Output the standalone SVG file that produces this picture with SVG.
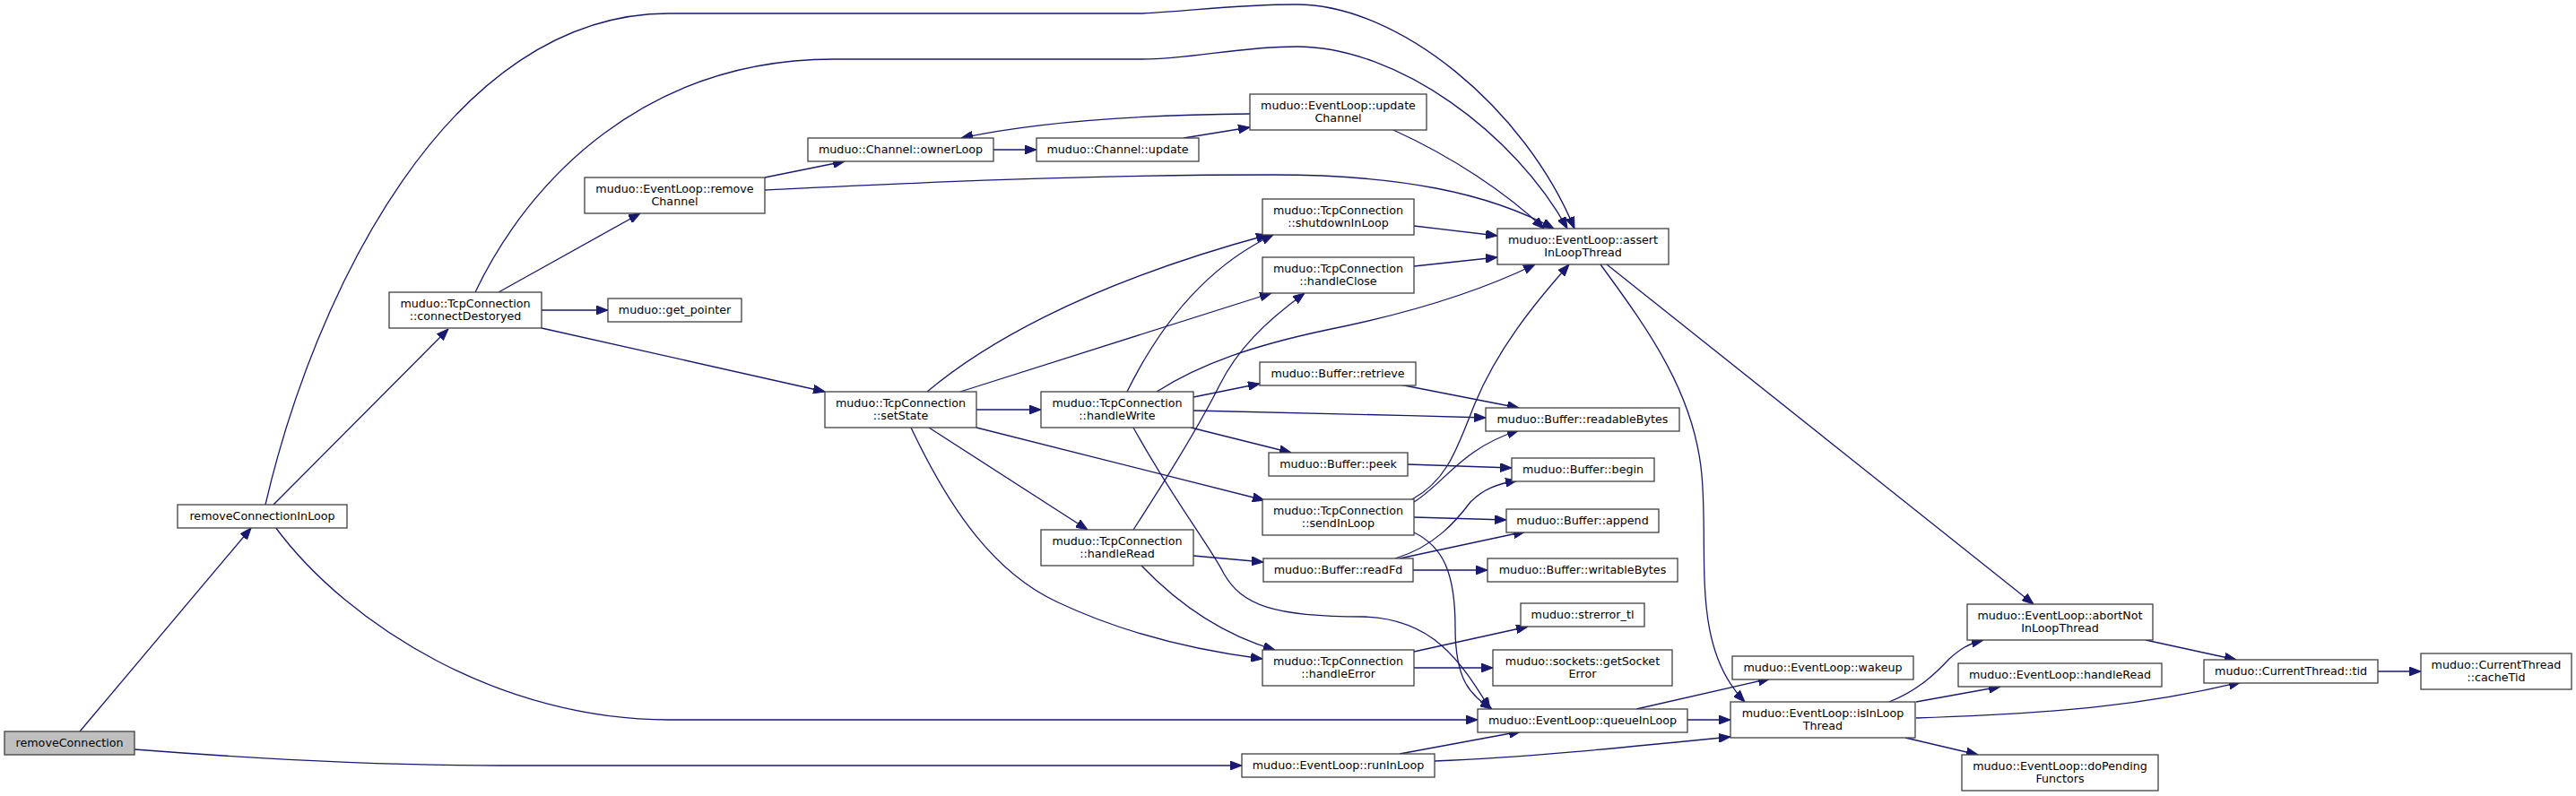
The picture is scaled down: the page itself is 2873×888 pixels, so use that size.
<svg xmlns="http://www.w3.org/2000/svg" width="2873" height="888" viewBox="0 0 2873 888">
<style>
.n rect{fill:#ffffff;stroke:#404040;stroke-width:1.3}
.n.root rect{fill:#bfbfbf}
.n text{font-family:"DejaVu Sans","Liberation Sans",sans-serif;font-size:12.7px;fill:#000;text-anchor:middle}
.e path{fill:none;stroke:#191970;stroke-width:1.3;marker-end:url(#ah)}
</style>
<defs>
<marker id="ah" markerWidth="13" markerHeight="10" refX="13" refY="5" orient="auto" markerUnits="userSpaceOnUse">
<path d="M0,0 L13,5 L0,10 z" fill="#191970" stroke="#191970" stroke-width="1"/>
</marker>
</defs>
<rect width="2873" height="888" fill="#ffffff"/>
<g class="e" id="edges">
<path d="M89,816 L280,589"/>
<path d="M150,836 C330,850 450,854 560,854 L1385,854"/>
<path d="M305,563 L500,367"/>
<path d="M296,563 C350,330 500,15 746,15 L1274,15 C1330,12 1380,5 1446,5 C1560,5 1700,120 1756,255"/>
<path d="M307,588 C390,700 560,803 746,803 L1648,803"/>
<path d="M556,326 L714,238"/>
<path d="M530,326 C590,200 720,66 930,66 L1274,66 C1330,66 1380,52 1446,52 C1560,52 1690,150 1748,255"/>
<path d="M604,346 L678,346"/>
<path d="M604,366 L920,437"/>
<path d="M853,198 L942,180"/>
<path d="M853,212 C1000,205 1200,195 1420,195 C1560,195 1660,215 1733,255"/>
<path d="M1108,167 L1156,167"/>
<path d="M1320,154 L1394,142"/>
<path d="M1394,127 C1280,128 1160,135 1072,154"/>
<path d="M1554,145 C1620,175 1680,215 1722,255"/>
<path d="M1034,437 C1090,390 1200,320 1414,262"/>
<path d="M1071,437 L1418,327"/>
<path d="M1089,457 L1161,457"/>
<path d="M1036,477 L1213,591"/>
<path d="M1089,477 L1410,558"/>
<path d="M1016,477 C1060,570 1110,640 1180,672 C1250,705 1330,725 1408,735"/>
<path d="M1257,437 C1290,370 1340,300 1420,262"/>
<path d="M1290,437 C1340,405 1400,385 1480,368 C1560,352 1640,330 1712,295"/>
<path d="M1331,443 L1405,428"/>
<path d="M1331,458 C1450,460 1550,463 1657,466"/>
<path d="M1328,477 L1440,505"/>
<path d="M1264,477 C1310,560 1350,610 1365,640 C1385,675 1420,688 1520,688 C1600,690 1630,740 1662,791"/>
<path d="M1264,591 C1310,520 1340,470 1360,430 C1380,390 1410,360 1455,327"/>
<path d="M1331,620 L1409,627"/>
<path d="M1273,631 C1320,680 1370,710 1422,725"/>
<path d="M1577,252 L1670,263"/>
<path d="M1577,297 L1670,287"/>
<path d="M1561,429 L1694,455"/>
<path d="M1570,518 L1686,522"/>
<path d="M1575,557 C1615,535 1625,500 1645,450 C1670,390 1710,340 1750,295"/>
<path d="M1577,560 C1610,540 1630,500 1694,480"/>
<path d="M1577,577 L1680,580"/>
<path d="M1577,594 C1610,610 1623,640 1623,700 C1623,760 1640,775 1664,791"/>
<path d="M1556,623 C1600,610 1625,580 1640,560 C1655,545 1670,540 1692,536"/>
<path d="M1561,623 L1701,593"/>
<path d="M1576,636 L1659,636"/>
<path d="M1577,727 L1704,699"/>
<path d="M1577,745 L1665,745"/>
<path d="M1561,841 L1696,816"/>
<path d="M1600,849 C1700,845 1800,835 1930,822"/>
<path d="M1825,791 L1974,757"/>
<path d="M1882,803 L1930,803"/>
<path d="M1785,295 C1840,370 1890,440 1898,530 C1906,620 1885,720 1946,783"/>
<path d="M1792,295 L2268,674"/>
<path d="M2107,783 C2140,770 2160,750 2174,735 C2185,725 2195,718 2212,714"/>
<path d="M2137,783 L2231,766"/>
<path d="M2137,801 C2300,796 2400,785 2499,761"/>
<path d="M2125,823 L2206,842"/>
<path d="M2393,714 L2494,736"/>
<path d="M2652,749 L2700,749"/>
</g>
<g class="n root" id="n_removeConnection"><rect x="5" y="816" width="145" height="26"/><text x="77.5" y="833">removeConnection</text></g>
<g class="n" id="n_removeConnectionInLoop"><rect x="198" y="563" width="189" height="26"/><text x="292.5" y="580">removeConnectionInLoop</text></g>
<g class="n" id="n_connectDestoryed"><rect x="434" y="326" width="170" height="40"/><text x="519" y="343">muduo::TcpConnection</text><text x="519" y="357">::connectDestoryed</text></g>
<g class="n" id="n_removeChannel"><rect x="652" y="198" width="201" height="40"/><text x="752.5" y="215">muduo::EventLoop::remove</text><text x="752.5" y="229">Channel</text></g>
<g class="n" id="n_get_pointer"><rect x="678" y="333" width="149" height="26"/><text x="752.5" y="350">muduo::get_pointer</text></g>
<g class="n" id="n_ownerLoop"><rect x="901" y="154" width="207" height="26"/><text x="1004.5" y="171">muduo::Channel::ownerLoop</text></g>
<g class="n" id="n_channelUpdate"><rect x="1156" y="154" width="181" height="26"/><text x="1246.5" y="171">muduo::Channel::update</text></g>
<g class="n" id="n_updateChannel"><rect x="1394" y="105" width="197" height="40"/><text x="1492.5" y="122">muduo::EventLoop::update</text><text x="1492.5" y="136">Channel</text></g>
<g class="n" id="n_setState"><rect x="920" y="437" width="169" height="40"/><text x="1004.5" y="454">muduo::TcpConnection</text><text x="1004.5" y="468">::setState</text></g>
<g class="n" id="n_handleWrite"><rect x="1161" y="437" width="170" height="40"/><text x="1246" y="454">muduo::TcpConnection</text><text x="1246" y="468">::handleWrite</text></g>
<g class="n" id="n_handleRead"><rect x="1161" y="591" width="170" height="40"/><text x="1246" y="608">muduo::TcpConnection</text><text x="1246" y="622">::handleRead</text></g>
<g class="n" id="n_shutdownInLoop"><rect x="1408" y="222" width="169" height="40"/><text x="1492.5" y="239">muduo::TcpConnection</text><text x="1492.5" y="253">::shutdownInLoop</text></g>
<g class="n" id="n_handleClose"><rect x="1408" y="287" width="169" height="40"/><text x="1492.5" y="304">muduo::TcpConnection</text><text x="1492.5" y="318">::handleClose</text></g>
<g class="n" id="n_retrieve"><rect x="1405" y="404" width="174" height="26"/><text x="1492" y="421">muduo::Buffer::retrieve</text></g>
<g class="n" id="n_peek"><rect x="1415" y="505" width="155" height="26"/><text x="1492.5" y="522">muduo::Buffer::peek</text></g>
<g class="n" id="n_sendInLoop"><rect x="1408" y="557" width="169" height="40"/><text x="1492.5" y="574">muduo::TcpConnection</text><text x="1492.5" y="588">::sendInLoop</text></g>
<g class="n" id="n_readFd"><rect x="1409" y="623" width="167" height="26"/><text x="1492.5" y="640">muduo::Buffer::readFd</text></g>
<g class="n" id="n_handleError"><rect x="1408" y="725" width="169" height="40"/><text x="1492.5" y="742">muduo::TcpConnection</text><text x="1492.5" y="756">::handleError</text></g>
<g class="n" id="n_runInLoop"><rect x="1385" y="841" width="215" height="26"/><text x="1492.5" y="858">muduo::EventLoop::runInLoop</text></g>
<g class="n" id="n_assertInLoopThread"><rect x="1670" y="255" width="191" height="40"/><text x="1765.5" y="272">muduo::EventLoop::assert</text><text x="1765.5" y="286">InLoopThread</text></g>
<g class="n" id="n_readableBytes"><rect x="1657" y="455" width="216" height="26"/><text x="1765" y="472">muduo::Buffer::readableBytes</text></g>
<g class="n" id="n_begin"><rect x="1686" y="511" width="159" height="26"/><text x="1765.5" y="528">muduo::Buffer::begin</text></g>
<g class="n" id="n_append"><rect x="1680" y="568" width="170" height="26"/><text x="1765" y="585">muduo::Buffer::append</text></g>
<g class="n" id="n_writableBytes"><rect x="1659" y="623" width="212" height="26"/><text x="1765" y="640">muduo::Buffer::writableBytes</text></g>
<g class="n" id="n_strerror_tl"><rect x="1696" y="673" width="138" height="26"/><text x="1765" y="690">muduo::strerror_tl</text></g>
<g class="n" id="n_getSocketError"><rect x="1665" y="725" width="200" height="40"/><text x="1765" y="742">muduo::sockets::getSocket</text><text x="1765" y="756">Error</text></g>
<g class="n" id="n_queueInLoop"><rect x="1648" y="791" width="234" height="26"/><text x="1765" y="808">muduo::EventLoop::queueInLoop</text></g>
<g class="n" id="n_wakeup"><rect x="1932" y="732" width="202" height="26"/><text x="2033" y="749">muduo::EventLoop::wakeup</text></g>
<g class="n" id="n_isInLoopThread"><rect x="1930" y="783" width="206" height="40"/><text x="2033" y="800">muduo::EventLoop::isInLoop</text><text x="2033" y="814">Thread</text></g>
<g class="n" id="n_abortNotInLoopThread"><rect x="2194" y="674" width="207" height="40"/><text x="2297.5" y="691">muduo::EventLoop::abortNot</text><text x="2297.5" y="705">InLoopThread</text></g>
<g class="n" id="n_eventLoopHandleRead"><rect x="2184" y="740" width="227" height="26"/><text x="2297.5" y="757">muduo::EventLoop::handleRead</text></g>
<g class="n" id="n_tid"><rect x="2458" y="736" width="194" height="26"/><text x="2555" y="753">muduo::CurrentThread::tid</text></g>
<g class="n" id="n_cacheTid"><rect x="2700" y="729" width="168" height="40"/><text x="2784" y="746">muduo::CurrentThread</text><text x="2784" y="760">::cacheTid</text></g>
<g class="n" id="n_doPendingFunctors"><rect x="2188" y="842" width="219" height="40"/><text x="2297.5" y="859">muduo::EventLoop::doPending</text><text x="2297.5" y="873">Functors</text></g>
</svg>
